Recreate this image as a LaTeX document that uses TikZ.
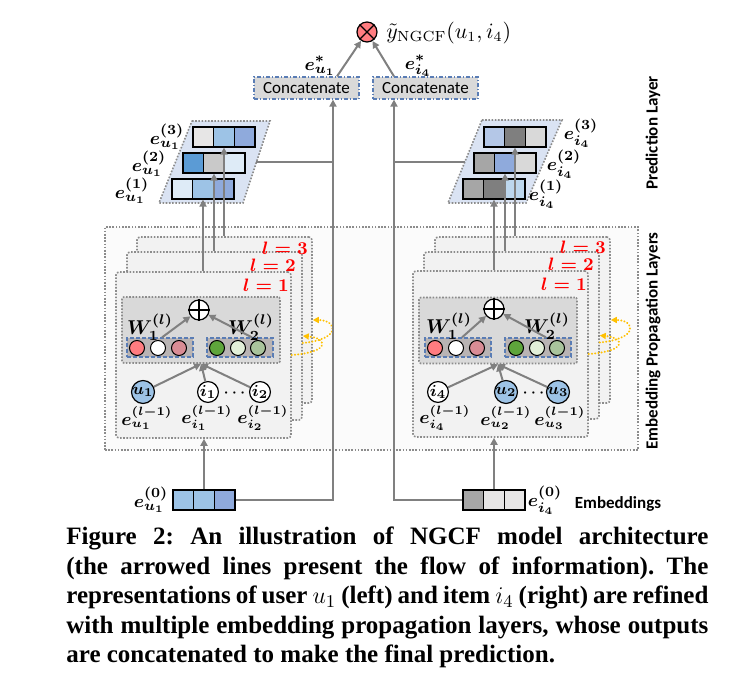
\documentclass[tikz,border=0pt]{standalone}
\usepackage{fontspec}
\usepackage{amsmath}
\usetikzlibrary{arrows.meta}
\newfontfamily\calfont{Carlito}
\newfontfamily\capfont{Liberation Serif}
\newcommand{\bmx}[1]{{\boldmath$#1$}}
\definecolor{lineg}{HTML}{808080}
\definecolor{dotg}{HTML}{8C8C8C}
\definecolor{outfill}{HTML}{FBFBFB}
\definecolor{layfill}{HTML}{F2F2F2}
\definecolor{innerfill}{HTML}{D9D9D9}
\definecolor{dashfill}{HTML}{B9B4B4}
\definecolor{dashblue}{HTML}{5A7DB5}
\definecolor{parafill}{HTML}{DAE3F3}
\definecolor{cA}{HTML}{E7E6E6}
\definecolor{cB}{HTML}{9DC3E6}
\definecolor{cC}{HTML}{8FAADC}
\definecolor{cD}{HTML}{5B9BD5}
\definecolor{cE}{HTML}{C9C9C9}
\definecolor{cF}{HTML}{DEEBF7}
\definecolor{cG}{HTML}{B4C7E7}
\definecolor{cH}{HTML}{7F7F7F}
\definecolor{cI}{HTML}{D9D9D9}
\definecolor{cJ}{HTML}{A6A6A6}
\definecolor{cK}{HTML}{BDD7EE}
\definecolor{pinkc}{HTML}{FF7C80}
\definecolor{dpink}{HTML}{D98C95}
\definecolor{greenc}{HTML}{5EA53B}
\definecolor{lgreen}{HTML}{E2F0D9}
\definecolor{sage}{HTML}{A9C49C}
\definecolor{yelc}{HTML}{FFC000}
\begin{document}
\begin{tikzpicture}[x=0.5pt,y=-0.5pt,
  conn/.style={draw=lineg, line width=1pt},
  arr/.style={conn, -{Triangle[length=3.5pt,width=3.5pt]}},
  dotbox/.style={draw=dotg, line width=0.8pt, dash pattern=on 0.8pt off 0.8pt, inner sep=0},
  outerbox/.style={dotbox, fill=outfill, minimum width=266.5pt, minimum height=111.5pt},
  laybox/.style={dotbox, fill=layfill, rounded corners=1.5pt, minimum width=87.5pt, minimum height=83pt},
  innerbox/.style={dotbox, fill=innerfill, rounded corners=1pt, minimum width=79pt, minimum height=33pt},
  dbox/.style={draw=dashblue, line width=0.6pt, dash pattern=on 1.8pt off 1.2pt, fill=dashfill, inner sep=0, minimum width=33pt, minimum height=9.5pt},
  cell/.style={draw=black, line width=0.6pt, minimum width=10.3pt, minimum height=10pt, inner sep=0},
  sm/.style={circle, draw=black, line width=0.5pt, minimum size=7.5pt, inner sep=0},
  ent/.style={circle, draw=black, line width=0.6pt, minimum size=10pt, inner sep=0, font=\fontsize{8.5}{9}\selectfont},
  lbl/.style={inner sep=0, font=\fontsize{9}{10}\selectfont},
  rlbl/.style={inner sep=0, font=\fontsize{9.5}{10}\selectfont},
  lnum/.style={inner sep=0, text=red, font=\fontsize{9.5}{10}\selectfont},
  wl/.style={inner sep=0, font=\fontsize{10}{11}\selectfont},
  cat/.style={draw=dashblue, line width=0.6pt, dash pattern=on 2pt off 1pt on 0.5pt off 1pt, fill=innerfill, minimum width=52.5pt, minimum height=11pt, inner sep=0, font=\calfont\fontsize{8.5}{9}\selectfont},
  opl/.style={circle, draw=black, line width=0.6pt, fill=white, minimum size=10pt, inner sep=0},
  yel/.style={draw=yelc, line width=1.1pt, dash pattern=on 0.01pt off 1.6pt, line cap=round, -{Triangle[length=3pt,width=3pt,fill=yelc]}},
  side/.style={inner sep=0, font=\calfont\bfseries\fontsize{8.5}{9}\selectfont},
  capline/.style={anchor=base west, inner sep=0, font=\capfont\bfseries\fontsize{12.5}{14}\selectfont\frenchspacing}
]
\useasboundingbox (0,0) rectangle (736,673);

% outer box
\node[outerbox] (OUT) at (371.5,338.5) {};

% ---------- left layers
\node[laybox] (LA3) at (224.5,320) {};
\node[laybox, minimum height=84pt] (LA2) at (214.5,336) {};
\node[laybox] (LA1) at (203.5,355) {};
\node[lnum] (Ll3) at (285,248) {\bmx{l=3}};
\node[lnum] (Ll2) at (273,265) {\bmx{l=2}};
\node[lnum] (Ll1) at (266,285) {\bmx{l=1}};
\node[innerbox] (LG) at (201,330) {};
\node[dbox] (LD1) at (160,347.5) {};
\node[dbox] (LD2) at (240,347.5) {};
\node[sm, fill=pinkc] (Lc1) at (137,348) {};
\node[sm, fill=white] (Lc2) at (158,348) {};
\node[sm, fill=dpink] (Lc3) at (179,348) {};
\node[sm, fill=greenc] (Lc4) at (217,348) {};
\node[sm, fill=lgreen] (Lc5) at (238,348) {};
\node[sm, fill=sage] (Lc6) at (258,348) {};
\node[opl] (LOP) at (199,310) {};
\draw[line width=0.6pt] (LOP.north) -- (LOP.south) (LOP.west) -- (LOP.east);
\node[wl] (LW1) at (150,327) {\bmx{W_1^{(l)}}};
\node[wl] (LW2) at (251,327) {\bmx{W_2^{(l)}}};
\draw[arr] ([xshift=1pt]LD1.north) -- (LOP);
\draw[arr] ([xshift=6pt]LD2.north) -- (LOP);
\node[ent, fill=cB] (Lu1) at (143,392) {\bmx{u_1}};
\node[ent, fill=white] (Li1) at (208,392) {\bmx{i_1}};
\node[inner sep=0, font=\fontsize{7}{8}\selectfont] (Ldots) at (236,393) {\bmx{\cdots}};
\node[ent, fill=white] (Li2) at (260,392) {\bmx{i_2}};
\draw[arr] (Lu1) -- (LG.south);
\draw[arr] (Li1) -- (LG.south);
\draw[arr] (Li2) -- (LG.south);
\node[lbl] (Le1) at (147,418) {\bmx{e_{u_1}^{(l-1)}}};
\node[lbl] (Le2) at (207,418) {\bmx{e_{i_1}^{(l-1)}}};
\node[lbl] (Le3) at (263,418) {\bmx{e_{i_2}^{(l-1)}}};
\draw[yel] (LA1.east) .. controls +(40,-3) and +(24,2) .. (LA2.east);
\draw[yel] ([yshift=-3.5pt]LA2.east) .. controls +(40,-4) and +(24,0) .. (LA3.east);

% ---------- right layers
\node[laybox] (RA3) at (522.5,320) {};
\node[laybox, minimum height=83.5pt] (RA2) at (511.5,335.5) {};
\node[laybox] (RA1) at (500.5,354) {};
\node[lnum] (Rl3) at (583,247) {\bmx{l=3}};
\node[lnum] (Rl2) at (571,264) {\bmx{l=2}};
\node[lnum] (Rl1) at (564,284) {\bmx{l=1}};
\node[innerbox] (RG) at (498,330.5) {};
\node[dbox] (RD1) at (458,347.5) {};
\node[dbox] (RD2) at (538,347.5) {};
\node[sm, fill=pinkc] (Rc1) at (435,348) {};
\node[sm, fill=white] (Rc2) at (456,348) {};
\node[sm, fill=dpink] (Rc3) at (477,348) {};
\node[sm, fill=greenc] (Rc4) at (516,348) {};
\node[sm, fill=lgreen] (Rc5) at (537,348) {};
\node[sm, fill=sage] (Rc6) at (557,348) {};
\node[opl] (ROP) at (494,309) {};
\draw[line width=0.6pt] (ROP.north) -- (ROP.south) (ROP.west) -- (ROP.east);
\node[wl] (RW1) at (449,326) {\bmx{W_1^{(l)}}};
\node[wl] (RW2) at (547,326) {\bmx{W_2^{(l)}}};
\draw[arr] ([xshift=2pt]RD1.north) -- (ROP);
\draw[arr] ([xshift=4pt]RD2.north) -- (ROP);
\node[ent, fill=white] (Ri4) at (438,392) {\bmx{i_4}};
\node[ent, fill=cB] (Ru2) at (506,392) {\bmx{u_2}};
\node[inner sep=0, font=\fontsize{7}{8}\selectfont] (Rdots) at (535,393) {\bmx{\cdots}};
\node[ent, fill=cB] (Ru3) at (558,392) {\bmx{u_3}};
\draw[arr] (Ri4) -- (RG.south);
\draw[arr] (Ru2) -- (RG.south);
\draw[arr] (Ru3) -- (RG.south);
\node[lbl] (Re1) at (445,418) {\bmx{e_{i_4}^{(l-1)}}};
\node[lbl] (Re2) at (506,418) {\bmx{e_{u_2}^{(l-1)}}};
\node[lbl] (Re3) at (560,418) {\bmx{e_{u_3}^{(l-1)}}};
\draw[yel] (RA1.east) .. controls +(40,-3) and +(24,2) .. (RA2.east);
\draw[yel] ([yshift=-3.5pt]RA2.east) .. controls +(40,-4) and +(24,0) .. (RA3.east);

% ---------- prediction layer parallelograms
\fill[parafill] (192,121) -- (270,121) -- (243,203) -- (159,203) -- cycle;
\draw[dotbox] (192,121) -- (270,121) -- (243,203) -- (159,203) -- cycle;
\fill[parafill] (482,120) -- (562,120) -- (526,203) -- (448,203) -- cycle;
\draw[dotbox] (482,120) -- (562,120) -- (526,203) -- (448,203) -- cycle;
\coordinate (LPe) at (256,162);
\coordinate (RPe) at (465,162);

\node[cell, fill=cA] (L3a) at (203.3,137) {};
\node[cell, fill=cB] (L3b) at (224,137) {};
\node[cell, fill=cC] (L3c) at (244.7,137) {};
\node[cell, fill=cD] (L2a) at (193.3,163) {};
\node[cell, fill=cE] (L2b) at (214,163) {};
\node[cell, fill=cF] (L2c) at (234.7,163) {};
\node[cell, fill=cF] (L1a) at (182.3,189) {};
\node[cell, fill=cB] (L1b) at (203,189) {};
\node[cell, fill=cC] (L1c) at (223.7,189) {};
\node[rlbl] (Lt3) at (167,137) {\bmx{e_{u_1}^{(3)}}};
\node[rlbl] (Lt2) at (149,164) {\bmx{e_{u_1}^{(2)}}};
\node[rlbl] (Lt1) at (132,191) {\bmx{e_{u_1}^{(1)}}};

\node[cell, fill=cG] (R3a) at (494.3,137) {};
\node[cell, fill=cH] (R3b) at (515,137) {};
\node[cell, fill=cI] (R3c) at (535.7,137) {};
\node[cell, fill=cJ] (R2a) at (484.3,163) {};
\node[cell, fill=cC] (R2b) at (505,163) {};
\node[cell, fill=cI] (R2c) at (525.7,163) {};
\node[cell, fill=cJ] (R1a) at (473.3,189) {};
\node[cell, fill=cH] (R1b) at (494,189) {};
\node[cell, fill=cK] (R1c) at (514.7,189) {};
\node[rlbl] (Rt3) at (581,133) {\bmx{e_{i_4}^{(3)}}};
\node[rlbl] (Rt2) at (564,164) {\bmx{e_{i_4}^{(2)}}};
\node[rlbl] (Rt1) at (546,194) {\bmx{e_{i_4}^{(1)}}};

% layer outputs upward
\draw[arr] (LA1.north -| L1b) -- (L1b.south);
\draw[arr] (LA2.north -| L2b) -- (L2b.south);
\draw[arr] (LA3.north -| L3b) -- (L3b.south);
\draw[arr] (RA1.north -| R1b) -- (R1b.south);
\draw[arr] (RA2.north -| R2b) -- (R2b.south);
\draw[arr] (RA3.north -| R3b) -- (R3b.south);

% ---------- embeddings
\node[cell, fill=cB] (E0a) at (183.3,500) {};
\node[cell, fill=cB] (E0b) at (204,500) {};
\node[cell, fill=cC] (E0c) at (224.7,500) {};
\node[rlbl] (Et) at (151,500) {\bmx{e_{u_1}^{(0)}}};
\node[cell, fill=cJ] (F0a) at (473.3,500) {};
\node[cell, fill=cA] (F0b) at (494,500) {};
\node[cell, fill=cA] (F0c) at (514.7,500) {};
\node[rlbl] (Ft) at (545,500) {\bmx{e_{i_4}^{(0)}}};
\draw[arr] (E0b.north) -- (E0b.north |- LA1.south);
\draw[arr] (F0b.north) -- (F0b.north |- RA1.south);

% ---------- concatenate and prediction
\node[cat] (LCat) at (306.5,88) {Concatenate};
\node[cat] (RCat) at (425.5,88) {Concatenate};
\coordinate (LJ) at (333,500);
\coordinate (RJ) at (394,500);
\draw[arr] (E0c.east) -| (LCat.south -| LJ);
\draw[arr] (F0a.west) -| (RCat.south -| RJ);
\draw[conn] (LPe) -- (LPe -| LJ);
\draw[conn] (RPe) -- (RPe -| RJ);
\node[circle, draw=black, line width=0.6pt, fill=pinkc, minimum size=10pt, inner sep=0] (OT) at (367,32) {};
\draw[line width=0.6pt] (OT.north west) -- (OT.south east) (OT.north east) -- (OT.south west);
\node[anchor=west, inner sep=0, font=\fontsize{10.5}{12}\selectfont] (Y) at (386,33) {$\tilde{y}_{\mathrm{NGCF}}(u_1,i_4)$};
\draw[arr] (LCat.north -| 337,0) -- (OT);
\draw[arr] (RCat.north -| RJ) -- (OT);
\node[rlbl] (Ls) at (320,66) {\bmx{e_{u_1}^{*}}};
\node[rlbl] (Rs) at (418,66) {\bmx{e_{i_4}^{*}}};

% side labels
\node[side, rotate=90] (PL) at (653,133) {Prediction Layer};
\node[side, rotate=90] (EPL) at (653,341) {Embedding Propagation Layers};
\node[side] (EMB) at (618,504) {Embeddings};

% caption
\node[capline] (C1) at (66,545) {\makebox[321pt][s]{Figure 2: An illustration of NGCF model architecture}};
\node[capline] (C2) at (66,574.5) {\makebox[321pt][s]{(the arrowed lines present the flow of information). The}};
\node[capline] (C3) at (66,604) {\makebox[321pt][s]{representations of user {\mdseries$u_1$} (left) and item {\mdseries$i_4$} (right) are refined}};
\node[capline] (C4) at (66,633.5) {\makebox[321pt][s]{with multiple embedding propagation layers, whose outputs}};
\node[capline] (C5) at (66,663) {are concatenated to make the final prediction.};
\end{tikzpicture}
\end{document}
